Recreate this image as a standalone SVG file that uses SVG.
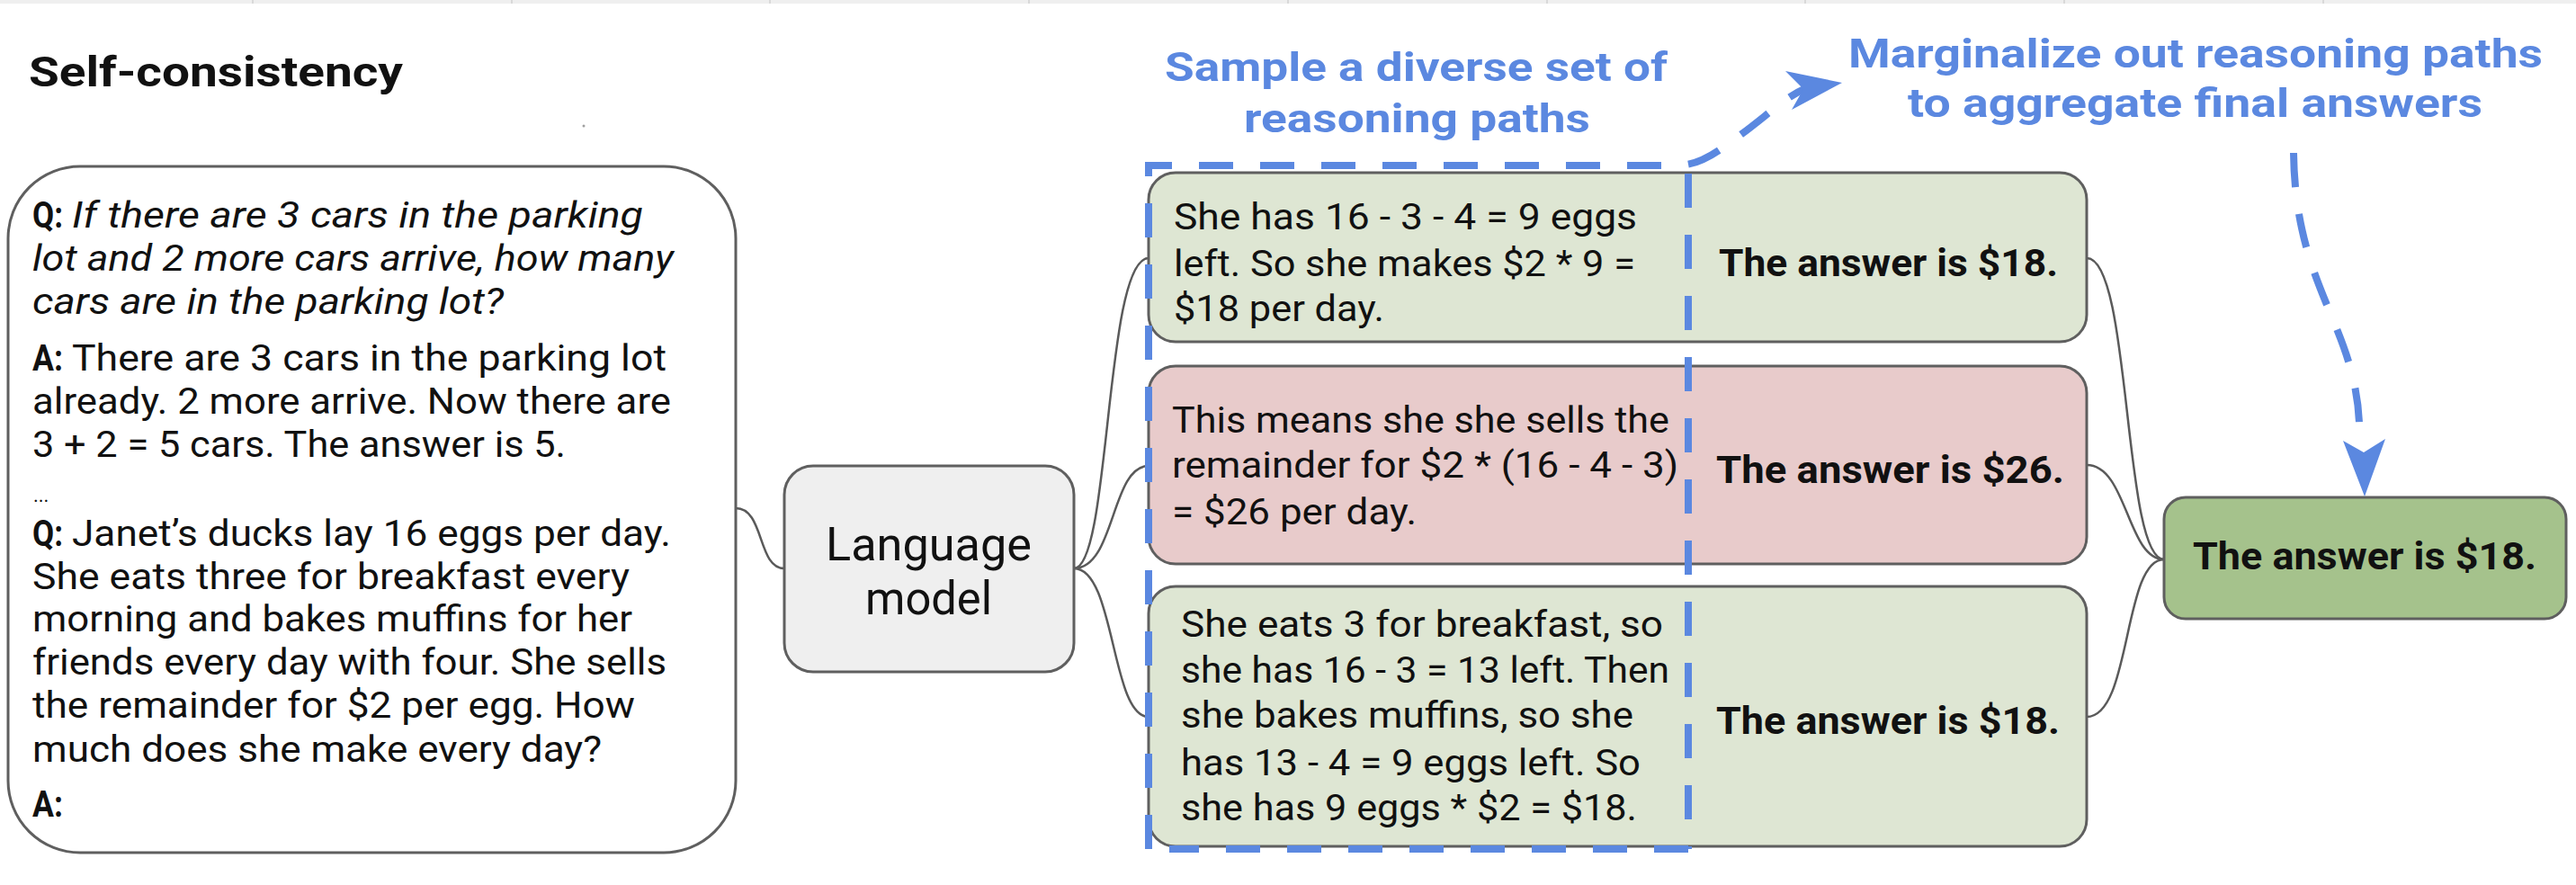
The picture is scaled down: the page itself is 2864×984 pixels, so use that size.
<svg xmlns="http://www.w3.org/2000/svg" width="2864" height="984" viewBox="0 0 2864 984">
<defs>
<style>
.t{font-family:Roboto,"Liberation Sans",Arial,sans-serif;fill:#111;}
.body{font-size:40px;}
.it{font-style:italic;}
.b{font-weight:bold;}
.ans{font-size:42px;font-weight:bold;}
.head{font-size:44px;font-weight:bold;fill:#5b88e0;}
.box{stroke:#5f5f5f;stroke-width:3;}
.conn{fill:none;stroke:#5a5a5a;stroke-width:2.5;}
.blue{fill:none;stroke:#5b88e0;stroke-width:8;stroke-dasharray:38 30;}
.arrow{fill:#5b88e0;stroke:none;}
</style>
</defs>
<rect x="0" y="0" width="2864" height="984" fill="#ffffff"/>
<g id="topband">
<rect x="0" y="0" width="2864" height="4" fill="#efefef"/>
<path d="M281 0V4M569 0V4M856 0V4M1144 0V4M1432 0V4M1720 0V4M2007 0V4M2295 0V4M2583 0V4" stroke="#d2d2d2" stroke-width="1.5"/>
</g>
<circle cx="649" cy="140" r="1.5" fill="#a0a0a0"/>
<text id="title" class="t b" x="32" y="96" font-size="47" textLength="416" lengthAdjust="spacingAndGlyphs">Self-consistency</text>

<g id="connectors">
<path class="conn" d="M818 565 C850 565 842 632 872 632"/>
<path class="conn" d="M1194 632 C1235 632 1228 287 1277 287"/>
<path class="conn" d="M1194 632 C1240 632 1235 518 1277 518"/>
<path class="conn" d="M1194 632 C1240 632 1235 797 1277 797"/>
<path class="conn" d="M2320 287 C2370 287 2360 622 2406 622"/>
<path class="conn" d="M2320 517 C2365 517 2365 622 2406 622"/>
<path class="conn" d="M2320 797 C2370 797 2360 622 2406 622"/>
</g>

<g id="prompt">
<rect class="box" x="9" y="185" width="809" height="763" rx="80" fill="#ffffff"/>
<text class="t body b" x="36" y="253" textLength="34" lengthAdjust="spacingAndGlyphs">Q:</text>
<text class="t body it" x="80" y="253" textLength="635" lengthAdjust="spacingAndGlyphs">If there are 3 cars in the parking</text>
<text class="t body it" x="36" y="301" textLength="713" lengthAdjust="spacingAndGlyphs">lot and 2 more cars arrive, how many</text>
<text class="t body it" x="36" y="349" textLength="524" lengthAdjust="spacingAndGlyphs">cars are in the parking lot?</text>
<text class="t body b" x="36" y="412" textLength="34" lengthAdjust="spacingAndGlyphs">A:</text>
<text class="t body" x="80" y="412" textLength="661" lengthAdjust="spacingAndGlyphs">There are 3 cars in the parking lot</text>
<text class="t body" x="36" y="460" textLength="710" lengthAdjust="spacingAndGlyphs">already. 2 more arrive. Now there are</text>
<text class="t body" x="36" y="508" textLength="593" lengthAdjust="spacingAndGlyphs">3 + 2 = 5 cars. The answer is 5.</text>
<text class="t" x="37" y="558" font-size="22" fill="#555">...</text>
<text class="t body b" x="36" y="607" textLength="34" lengthAdjust="spacingAndGlyphs">Q:</text>
<text class="t body" x="80" y="607" textLength="666" lengthAdjust="spacingAndGlyphs">Janet’s ducks lay 16 eggs per day.</text>
<text class="t body" x="36" y="655" textLength="664" lengthAdjust="spacingAndGlyphs">She eats three for breakfast every</text>
<text class="t body" x="36" y="702" textLength="667" lengthAdjust="spacingAndGlyphs">morning and bakes muffins for her</text>
<text class="t body" x="36" y="750" textLength="705" lengthAdjust="spacingAndGlyphs">friends every day with four. She sells</text>
<text class="t body" x="36" y="798" textLength="670" lengthAdjust="spacingAndGlyphs">the remainder for $2 per egg. How</text>
<text class="t body" x="36" y="847" textLength="633" lengthAdjust="spacingAndGlyphs">much does she make every day?</text>
<text class="t body b" x="36" y="908" textLength="34" lengthAdjust="spacingAndGlyphs">A:</text>
</g>

<g id="language-model">
<rect class="box" x="872" y="518" width="322" height="229" rx="32" fill="#efefef"/>
<text class="t" x="918" y="623" font-size="52" textLength="229" lengthAdjust="spacingAndGlyphs">Language</text>
<text class="t" x="962" y="683" font-size="52" textLength="141" lengthAdjust="spacingAndGlyphs">model</text>
</g>

<g id="path1">
<rect class="box" x="1277" y="192" width="1043" height="188" rx="30" fill="#dee6d3"/>
<text class="t body" x="1305" y="255" textLength="515" lengthAdjust="spacingAndGlyphs">She has 16 - 3 - 4 = 9 eggs</text>
<text class="t body" x="1305" y="307" textLength="513" lengthAdjust="spacingAndGlyphs">left. So she makes $2 * 9 =</text>
<text class="t body" x="1305" y="357" textLength="234" lengthAdjust="spacingAndGlyphs">$18 per day.</text>
<text class="t ans" x="1911" y="307" textLength="377" lengthAdjust="spacingAndGlyphs">The answer is $18.</text>
</g>

<g id="path2">
<rect class="box" x="1277" y="407" width="1043" height="220" rx="30" fill="#e8cbcb"/>
<text class="t body" x="1303" y="481" textLength="553" lengthAdjust="spacingAndGlyphs">This means she she sells the</text>
<text class="t body" x="1303" y="531" textLength="563" lengthAdjust="spacingAndGlyphs">remainder for $2 * (16 - 4 - 3)</text>
<text class="t body" x="1303" y="583" textLength="272" lengthAdjust="spacingAndGlyphs">= $26 per day.</text>
<text class="t ans" x="1908" y="537" textLength="387" lengthAdjust="spacingAndGlyphs">The answer is $26.</text>
</g>

<g id="path3">
<rect class="box" x="1277" y="652" width="1043" height="289" rx="30" fill="#dee6d3"/>
<text class="t body" x="1313" y="708" textLength="536" lengthAdjust="spacingAndGlyphs">She eats 3 for breakfast, so</text>
<text class="t body" x="1313" y="759" textLength="543" lengthAdjust="spacingAndGlyphs">she has 16 - 3 = 13 left. Then</text>
<text class="t body" x="1313" y="809" textLength="503" lengthAdjust="spacingAndGlyphs">she bakes muffins, so she</text>
<text class="t body" x="1313" y="862" textLength="511" lengthAdjust="spacingAndGlyphs">has 13 - 4 = 9 eggs left. So</text>
<text class="t body" x="1313" y="912" textLength="507" lengthAdjust="spacingAndGlyphs">she has 9 eggs * $2 = $18.</text>
<text class="t ans" x="1908" y="816" textLength="382" lengthAdjust="spacingAndGlyphs">The answer is $18.</text>
</g>

<g id="final-answer">
<rect class="box" x="2406" y="553" width="447" height="135" rx="24" fill="#a5c28c"/>
<text class="t ans" x="2438" y="633" textLength="382" lengthAdjust="spacingAndGlyphs">The answer is $18.</text>
</g>

<g id="sample-annotation">
<path class="blue" d="M1277 944 L1277 184 L1862 184 C1890 184 1905 172 1935 150 S1985 108 2006 99"/>
<path class="blue" d="M1877 944 L1300 944"/>
<path class="blue" stroke-width="7" d="M1877 193 L1877 944"/>
<polygon class="arrow" points="2048,92 1985,79 2005,99 1992,122"/>
<text class="t head" x="1295" y="90" textLength="559" lengthAdjust="spacingAndGlyphs">Sample a diverse set of</text>
<text class="t head" x="1383" y="147" textLength="385" lengthAdjust="spacingAndGlyphs">reasoning paths</text>
</g>

<g id="marginalize-annotation">
<path class="blue" d="M2550 170 C2552 320 2618 360 2623 470"/>
<polygon class="arrow" points="2629,552 2605,490 2628,503 2652,488"/>
<text class="t head" x="2055" y="75" textLength="772" lengthAdjust="spacingAndGlyphs">Marginalize out reasoning paths</text>
<text class="t head" x="2121" y="130" textLength="639" lengthAdjust="spacingAndGlyphs">to aggregate final answers</text>
</g>
</svg>
